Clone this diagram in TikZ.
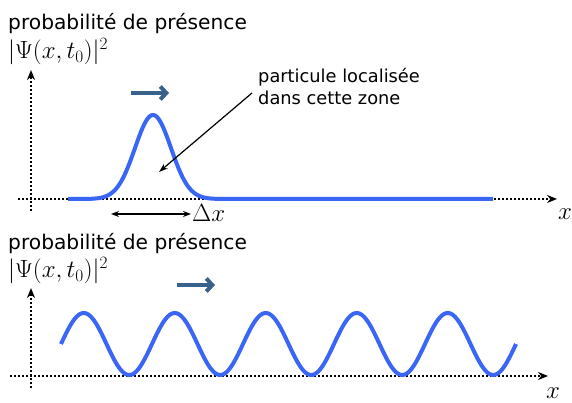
\documentclass[tikz,border=0pt]{standalone}
\usepackage{fontspec}
\newfontfamily\etiquette{DejaVu Sans}
\usetikzlibrary{arrows.meta}

\begin{document}
\begin{tikzpicture}[x=1pt, y=1pt,
  axe/.style={line width=1.8pt, dash pattern=on 2pt off 2pt, -{Stealth[length=10pt, width=8pt]}},
  onde/.style={line width=4pt, color=courbe},
  sens/.style={line width=4.5pt, color=fleche, -{Straight Barb[length=6pt, width=13pt, line width=4pt]}},
  titre/.style={anchor=base west, inner sep=0pt, font=\etiquette\fontsize{20.2}{24}\selectfont},
  grandeur/.style={anchor=base west, inner sep=0pt, font=\fontsize{23}{26}\selectfont}]
\definecolor{courbe}{RGB}{58,102,245}
\definecolor{fleche}{RGB}{56,98,138}
\useasboundingbox (0,0) rectangle (572,403);

% ---------- paquet d'ondes localise
\begin{scope}
  \node[titre] (titreA) at (8,373) {probabilité de présence};
  \node[grandeur] (psiA) at (8,344) {$|\Psi(x,t_0)|^2$};
  \coordinate (oyA) at (31,192);
  \coordinate (hyA) at (31,333);
  \coordinate (oxA) at (18,204);
  \coordinate (hxA) at (557,204);
  \draw[axe] (oyA) -- (hyA);
  \draw[axe] (oxA) -- (hxA);
  \node[font=\fontsize{23}{26}\selectfont] (xA) at (565,189) {$x$};
  % gaussienne : les queues sont tracees a part (exp trop petit sinon)
  \draw[onde] (68,204) -- (90,204)
    -- plot[domain=90:216, samples=120, smooth] (\x, {204+84*exp(-0.5*((\x-153)/18)^2)})
    -- (493,204);
  \coordinate (gA) at (131,310);
  \coordinate (dA) at (169,310);
  \draw[sens] (gA) -- (dA);
  % ancre base = ligne du bas
  \node[anchor=base west, inner sep=0pt, align=left,
        font=\etiquette\fontsize{17.8}{22}\selectfont] (note) at (258,298)
        {particule localisée\\dans cette zone};
  \coordinate (zone) at (159,231);
  \draw[line width=1.2pt, -{Stealth[length=9pt, width=6pt]}] (252,310) -- (zone);
  \coordinate (lg) at (111,189);
  \coordinate (ld) at (191,189);
  \draw[line width=1.2pt, {Stealth[length=8pt, width=6pt]}-{Stealth[length=8pt, width=6pt]}] (lg) -- (ld);
  \node[grandeur] (dx) at (192,181) {$\Delta x$};
\end{scope}

% ---------- onde plane
\begin{scope}
  \node[titre] (titreB) at (8,153) {probabilité de présence};
  \node[grandeur] (psiB) at (8,125) {$|\Psi(x,t_0)|^2$};
  \coordinate (oyB) at (31,15);
  \coordinate (hyB) at (31,115);
  \coordinate (oxB) at (10,27);
  \coordinate (hxB) at (548,27);
  \draw[axe] (oyB) -- (hyB);
  \draw[axe] (oxB) -- (hxB);
  \node[font=\fontsize{23}{26}\selectfont] (xB) at (553,10) {$x$};
  \draw[onde] plot[domain=61:516, samples=300, smooth] (\x, {59+31*sin(3.956*(\x-61))});
  \coordinate (gB) at (177,118);
  \coordinate (dB) at (215,118);
  \draw[sens] (gB) -- (dB);
\end{scope}
\end{tikzpicture}
\end{document}
